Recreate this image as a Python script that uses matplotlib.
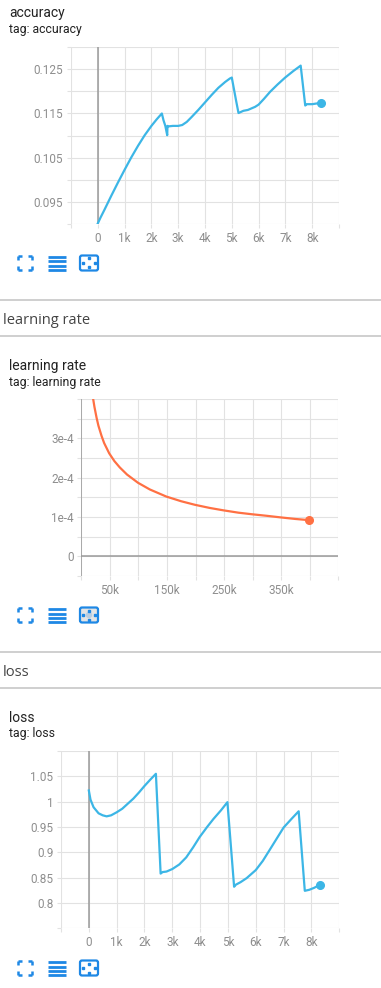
import matplotlib
matplotlib.use("Agg")
import matplotlib.pyplot as plt
from matplotlib.patches import FancyBboxPatch, Circle
import numpy as np

plt.rcParams["font.family"] = ["Roboto", "DejaVu Sans"]

W, H = 381, 988

# --- accuracy (steps, value) ---
acc_steps = [0, 100, 250, 500, 750, 1000, 1250, 1500, 1750, 2000, 2200, 2390,
             2450, 2520, 2590, 2600, 2650, 2800, 3000, 3150, 3320, 3500, 3750,
             4000, 4250, 4500, 4750, 4930, 5000, 5080, 5160, 5250, 5430, 5600,
             5870, 6000, 6200, 6430, 6700, 6990, 7300, 7570, 7740, 7800, 8000,
             8320]
acc_values = [0.0902, 0.0915, 0.0933, 0.0964, 0.0994, 0.1023, 0.1051, 0.1077,
              0.1101, 0.1122, 0.1137, 0.1150, 0.1135, 0.1122, 0.1101, 0.1122,
              0.1121, 0.1122, 0.1122, 0.1124, 0.1131, 0.1142, 0.1158, 0.1175,
              0.1192, 0.1208, 0.1221, 0.1229, 0.1231, 0.1205, 0.1179, 0.1151,
              0.1156, 0.1158, 0.1165, 0.1170, 0.1183, 0.1199, 0.1215, 0.1231,
              0.1246, 0.1258, 0.1168, 0.1171, 0.1171, 0.1174]
acc_ygrid = [0.090, 0.095, 0.100, 0.105, 0.110, 0.115, 0.120, 0.125, 0.130]
acc_ylabels = ["", "0.095", "", "0.105", "", "0.115", "", "0.125", ""]

# --- learning rate ---
lr_steps = [19000, 21000, 23000, 26800, 30000, 35500, 40000, 48800, 58000,
            67400, 80000, 99300, 120000, 148800, 175000, 199000, 225000,
            248600, 275000, 298600, 325000, 349000, 375000, 399000]
lr_values = [4.2e-4, 3.98e-4, 3.80e-4, 3.52e-4, 3.32e-4, 3.06e-4, 2.88e-4,
             2.62e-4, 2.42e-4, 2.26e-4, 2.08e-4, 1.87e-4, 1.70e-4, 1.52e-4,
             1.40e-4, 1.31e-4, 1.23e-4, 1.17e-4, 1.11e-4, 1.07e-4, 1.03e-4,
             0.99e-4, 0.95e-4, 0.92e-4]
lr_ygrid = [-0.5e-4, 0, 0.5e-4, 1e-4, 1.5e-4, 2e-4, 2.5e-4, 3e-4, 3.5e-4, 4e-4]
lr_ylabels = ["", "0", "", "1e-4", "", "2e-4", "", "3e-4", "", ""]
lr_xgrid = [0, 50000, 100000, 150000, 200000, 250000, 300000, 350000, 400000, 450000]
lr_xlabels = ["", "50k", "", "150k", "", "250k", "", "350k", "", ""]

# --- loss ---
loss_steps = [0, 60, 170, 350, 500, 640, 800, 1000, 1200, 1360, 1600, 1800,
              2000, 2200, 2410, 2580, 2650, 2790, 3000, 3250, 3500, 3750,
              3980, 4250, 4480, 4750, 4980, 5220, 5280, 5450, 5670, 6000,
              6250, 6490, 6750, 7000, 7300, 7540, 7760, 7920, 8100, 8300]
loss_values = [1.022, 1.004, 0.989, 0.977, 0.973, 0.971, 0.973, 0.979, 0.986,
               0.994, 1.006, 1.018, 1.031, 1.043, 1.055, 0.858, 0.861, 0.862,
               0.867, 0.876, 0.890, 0.910, 0.930, 0.950, 0.966, 0.983, 0.999,
               0.832, 0.836, 0.841, 0.849, 0.865, 0.883, 0.904, 0.927, 0.949,
               0.967, 0.981, 0.824, 0.826, 0.830, 0.836]
loss_ygrid = [0.75, 0.80, 0.85, 0.90, 0.95, 1.00, 1.05, 1.10]
loss_ylabels = ["", "0.8", "0.85", "0.9", "0.95", "1", "1.05", ""]

step_grid = [-1000, 0, 1000, 2000, 3000, 4000, 5000, 6000, 7000, 8000, 9000]
step_labels = ["", "0", "1k", "2k", "3k", "4k", "5k", "6k", "7k", "8k", ""]

BLUE = "#3cb6e6"
ORANGE = "#ff7043"
ICON = "#1e88e5"
GRID = "#e2e2e2"
ZERO = "#9a9a9a"
TICK_TXT = "#8e8e8e"


def chart(fig, box, xs, ys, color, xlim, ylim, xgrid, xlabels, ygrid, ylabels,
          zero_x=False, zero_y=False):
    left, top, right, bottom = box
    ax = fig.add_axes([left / W, 1 - bottom / H, (right - left) / W, (bottom - top) / H])
    ax.set_facecolor("none")
    ax.plot(xs, ys, color=color, lw=1.6, solid_joinstyle="round", zorder=3)
    ax.plot(xs[-1], ys[-1], "o", color=color, ms=5.5, zorder=4, clip_on=False)
    ax.set_xlim(xlim)
    ax.set_ylim(ylim)
    ax.set_xticks(xgrid)
    ax.set_xticklabels(xlabels)
    ax.set_yticks(ygrid)
    ax.set_yticklabels(ylabels)
    ax.grid(True, color=GRID, lw=0.8, zorder=0)
    for s in ax.spines.values():
        s.set_visible(False)
    ax.tick_params(length=3, width=0.8, color=GRID, labelcolor=TICK_TXT,
                   labelsize=8.5, pad=2.5)
    if zero_x:
        ax.axvline(0, color=ZERO, lw=1.1, zorder=2)
    if zero_y:
        ax.axhline(0, color=ZERO, lw=1.1, zorder=2)
    return ax


def icons(ov, y0, selected=False):
    # fit-domain corners
    x0, x1, y1 = 18, 32, y0 + 14
    c = 4
    for (px, py, dx, dy) in [(x0, y0, 1, 1), (x1, y0, -1, 1), (x0, y1, 1, -1), (x1, y1, -1, -1)]:
        ov.plot([px, px + dx * c], [py, py], color=ICON, lw=1.8, solid_capstyle="butt")
        ov.plot([px, px], [py, py + dy * c], color=ICON, lw=1.8, solid_capstyle="butt")
    # list icon
    for yy in [y0 + 1.2, y0 + 5.5, y0 + 9.8, y0 + 14]:
        ov.plot([48, 66], [yy, yy], color=ICON, lw=2.0, solid_capstyle="butt")
    # zoom box
    fc = "#e4e4e4" if selected else "white"
    ov.add_patch(FancyBboxPatch((80, y0 - 0.5), 18, 15, boxstyle="round,pad=0,rounding_size=2",
                                fc=fc, ec=ICON, lw=1.6))
    cx, cy = 89, y0 + 7
    if selected:
        ov.add_patch(Circle((cx, cy), 3.2, fc="#b9cde0", ec="none"))
    for dx, dy in [(-6, 0), (6, 0), (0, -4.5), (0, 4.5)]:
        ov.plot(cx + dx, cy + dy, "s", color=ICON, ms=1.6)


fig = plt.figure(figsize=(W / 100, H / 100), dpi=100)
ov = fig.add_axes([0, 0, 1, 1])
ov.set_xlim(0, W)
ov.set_ylim(H, 0)
ov.axis("off")

# section headers
for ytop, ybot, name in [(300, 336, "learning rate"), (652, 688, "loss")]:
    ov.plot([0, W], [ytop, ytop], color="#cfcfcf", lw=1.4)
    ov.plot([0, W], [ybot, ybot], color="#cfcfcf", lw=1.4)
    ov.text(3, ybot - 12, name, fontsize=10.5, color="#444444", va="baseline",
            family=["Open Sans", "DejaVu Sans"])

# chart titles
for name, yb in [("accuracy", 17.5), ("learning rate", 370), ("loss", 721.5)]:
    ov.text(9, yb, name, fontsize=10, color="#222222", va="baseline")
    ov.text(9, yb + 15.5, "tag: " + name, fontsize=8.8, color="#222222", va="baseline")

chart(fig, (71, 47, 339, 224.3), acc_steps, acc_values, BLUE, (-1000, 9000),
      (0.090, 0.130), step_grid, step_labels, acc_ygrid, acc_ylabels, zero_x=True)
chart(fig, (81.3, 399, 338.3, 576), lr_steps, lr_values, ORANGE, (0, 450000),
      (-0.5e-4, 4e-4), lr_xgrid, lr_xlabels, lr_ygrid, lr_ylabels, zero_x=True, zero_y=True)
chart(fig, (61, 751, 339.3, 928.3), loss_steps, loss_values, BLUE, (-1000, 9000),
      (0.75, 1.10), step_grid, step_labels, loss_ygrid, loss_ylabels, zero_x=True)

icons(ov, 256)
icons(ov, 608, selected=True)
icons(ov, 961)

fig.savefig("out.png", dpi=100)
